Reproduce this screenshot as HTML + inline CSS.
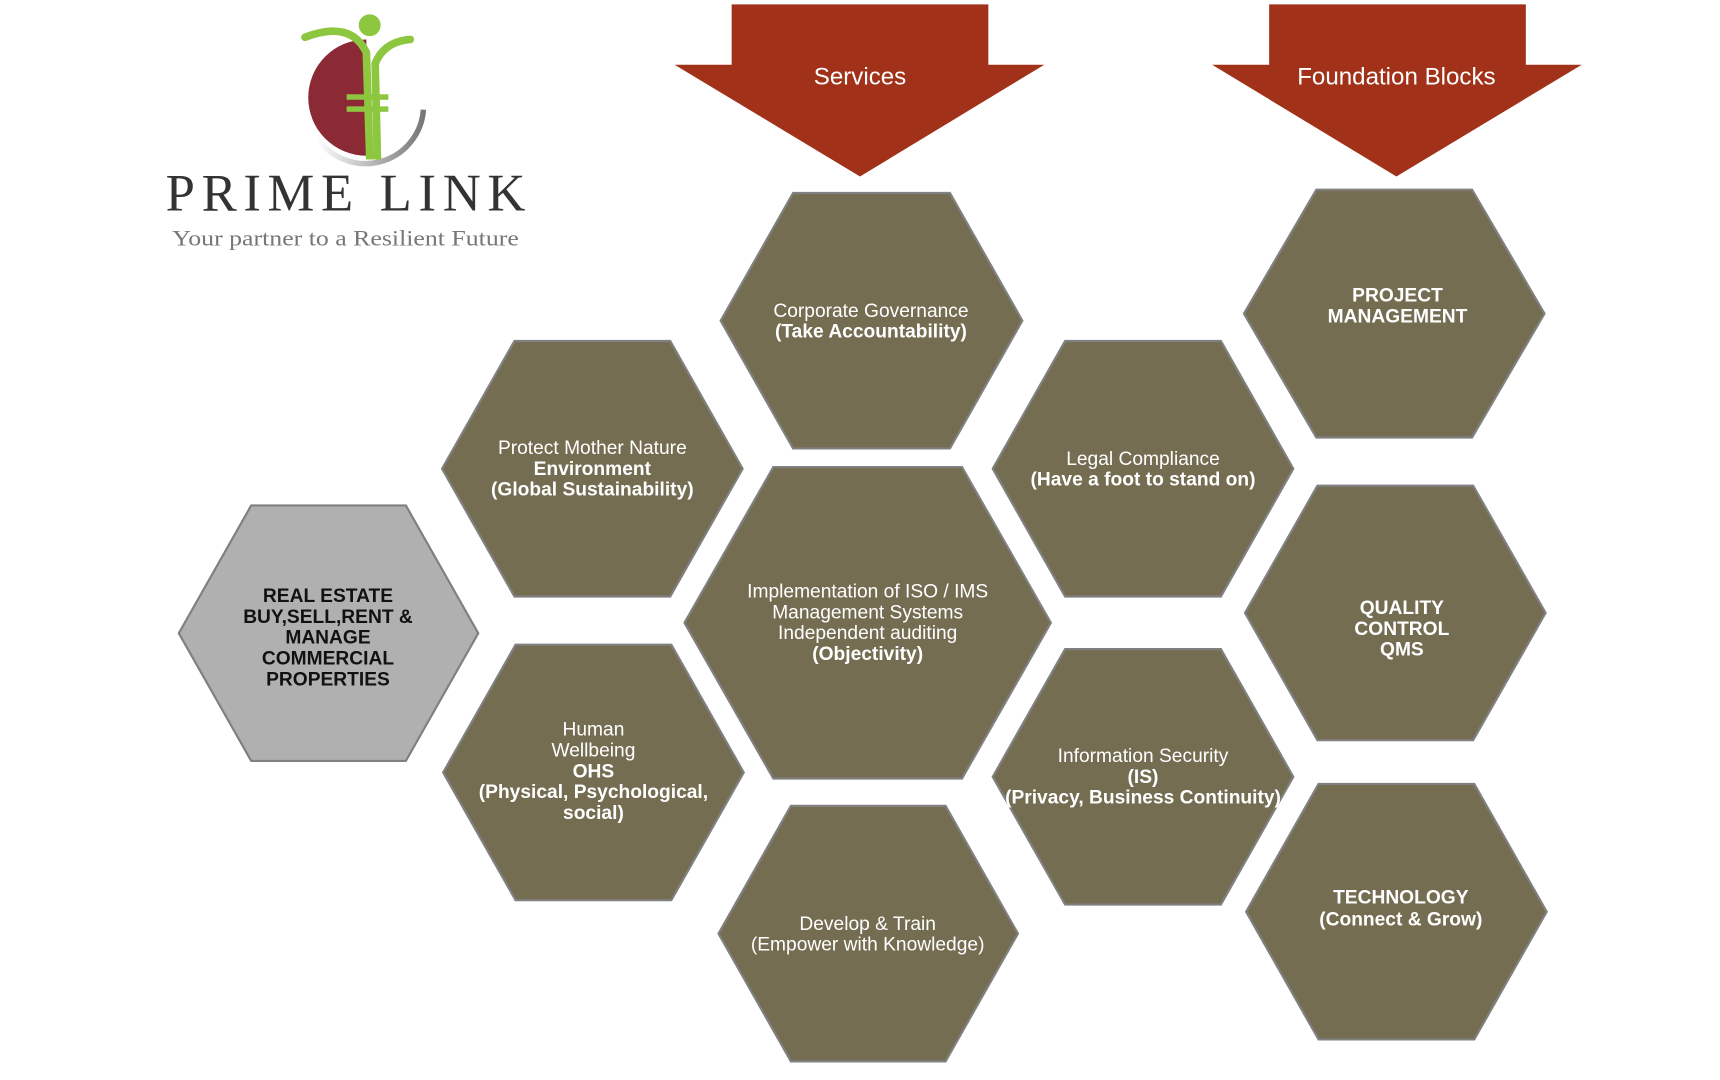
<!DOCTYPE html>
<html><head><meta charset="utf-8"><style>
html,body{margin:0;padding:0;background:#fff;}
svg{display:block;}
.t{font-family:"Liberation Sans",sans-serif;fill:#fff;font-size:17.5px;text-anchor:middle;}
.b{font-weight:bold;}
.k{fill:#111;}
</style></head><body>
<svg width="1720" height="1080" viewBox="0 0 1568 985" preserveAspectRatio="none" xmlns="http://www.w3.org/2000/svg">
<rect width="1568" height="985" fill="#fff"/>
<defs><linearGradient id="g" x1="0" x2="1"><stop offset="0" stop-color="#fff"/><stop offset="1" stop-color="#777"/></linearGradient></defs>
<path d="M334,36 A53,53 0 0 0 334,142 Z" fill="#8b2a35"/>
<path d="M288,124 A53,53 0 0 0 386,100" fill="none" stroke="url(#g)" stroke-width="5"/>
<path d="M278,34 Q320,18 334,48 L337,142 L344,142 L342,58 Q350,38 374,36" fill="none" stroke="#8dc63f" stroke-width="7" stroke-linecap="round"/>
<circle cx="337" cy="23" r="10" fill="#8dc63f"/>
<rect x="316" y="86" width="38" height="5" fill="#8dc63f"/>
<rect x="316" y="97" width="38" height="5" fill="#8dc63f"/>
<text x="151" y="192" font-family="Liberation Serif,serif" font-size="48" fill="#333" textLength="328" lengthAdjust="spacing">PRIME LINK</text>
<text x="157" y="224" font-family="Liberation Serif,serif" font-size="20" fill="#777" textLength="316" lengthAdjust="spacingAndGlyphs">Your partner to a Resilient Future</text>
<polygon points="667,4 901,4 901,59 952,59 784,161 615,59 667,59" fill="#a13219"/>
<polygon points="1157,4 1391,4 1391,59 1442,59 1273,161 1105,59 1157,59" fill="#a13219"/>
<text x="784" y="77" class="t" style="font-size:22px">Services</text>
<text x="1273" y="77" class="t" style="font-size:22px">Foundation Blocks</text>
<g fill="#756d52" stroke="#808080" stroke-width="2">
<polygon points="723,176 866,176 932,292.5 866,409 723,409 657,292.5"/>
<polygon points="1200,173 1342,173 1408,286 1342,399 1200,399 1134,286"/>
<polygon points="469,311 611,311 677,427.5 611,544 469,544 403,427.5"/>
<polygon points="971,311 1113,311 1179,427.5 1113,544 971,544 905,427.5"/>
<polygon points="705,426 877,426 958,568 877,710 705,710 624,568"/>
<polygon points="1201,443 1343,443 1409,559 1343,675 1201,675 1135,559"/>
<polygon points="470,588 612,588 678,704.5 612,821 470,821 404,704.5"/>
<polygon points="971,592 1113,592 1179,708.5 1113,825 971,825 905,708.5"/>
<polygon points="1202,715 1344,715 1410,831.5 1344,948 1202,948 1136,831.5"/>
<polygon points="721,735 862,735 928,851.5 862,968 721,968 655,851.5"/>
<polygon points="229,461 370,461 436,577.5 370,694 229,694 163,577.5" fill="#b0b0b0"/>
</g>
<text class="t" x="794" y="289">Corporate Governance</text>
<text class="t b" x="794" y="308">(Take Accountability)</text>
<text class="t b" x="1274" y="275">PROJECT</text>
<text class="t b" x="1274" y="294">MANAGEMENT</text>
<text class="t" x="540" y="414">Protect Mother Nature</text>
<text class="t b" x="540" y="433">Environment</text>
<text class="t b" x="540" y="452">(Global Sustainability)</text>
<text class="t" x="1042" y="424">Legal Compliance</text>
<text class="t b" x="1042" y="443">(Have a foot to stand on)</text>
<text class="t b k" x="299" y="549">REAL ESTATE</text>
<text class="t b k" x="299" y="568">BUY,SELL,RENT &amp;</text>
<text class="t b k" x="299" y="587">MANAGE</text>
<text class="t b k" x="299" y="606">COMMERCIAL</text>
<text class="t b k" x="299" y="625">PROPERTIES</text>
<text class="t" x="791" y="545">Implementation of ISO / IMS</text>
<text class="t" x="791" y="564">Management Systems</text>
<text class="t" x="791" y="583">Independent auditing</text>
<text class="t b" x="791" y="602">(Objectivity)</text>
<text class="t b" x="1278" y="560">QUALITY</text>
<text class="t b" x="1278" y="579">CONTROL</text>
<text class="t b" x="1278" y="598">QMS</text>
<text class="t" x="541" y="671">Human</text>
<text class="t" x="541" y="690">Wellbeing</text>
<text class="t b" x="541" y="709">OHS</text>
<text class="t b" x="541" y="728">(Physical, Psychological,</text>
<text class="t b" x="541" y="747">social)</text>
<text class="t" x="1042" y="695">Information Security</text>
<text class="t b" x="1042" y="714">(IS)</text>
<text class="t b" x="1042" y="733">(Privacy, Business Continuity)</text>
<text class="t b" x="1277" y="824">TECHNOLOGY</text>
<text class="t b" x="1277" y="844">(Connect &amp; Grow)</text>
<text class="t" x="791" y="848">Develop &amp; Train</text>
<text class="t" x="791" y="867">(Empower with Knowledge)</text>
</svg>
</body></html>
